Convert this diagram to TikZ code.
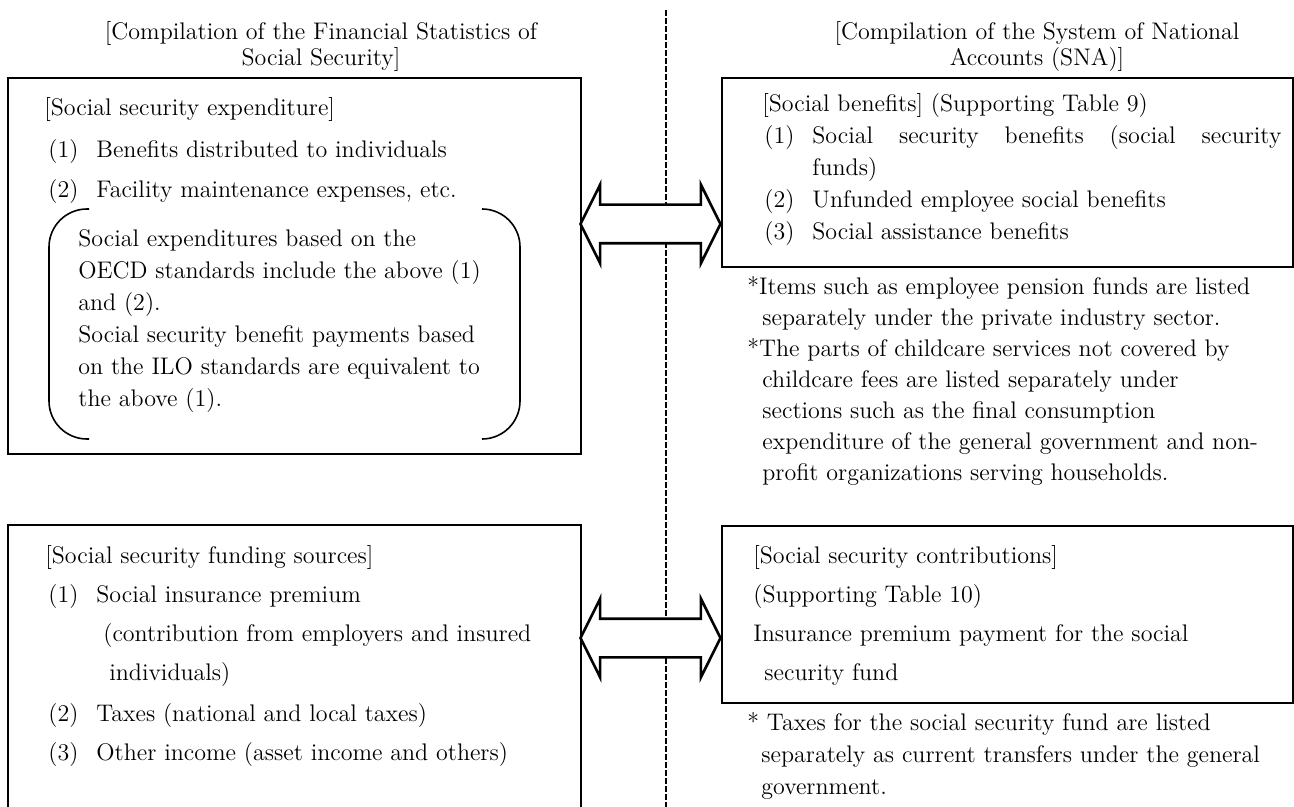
\documentclass[tikz,border=0pt]{standalone}
\usetikzlibrary{positioning, shapes.arrows}

\newcommand{\itemlabel}[1]{\makebox[24pt][l]{#1}}

\begin{document}
\begin{tikzpicture}[
		x=0.5pt, y=-0.5pt,
		font=\fontsize{12}{16}\selectfont,
		box/.style={draw, line width=0.9pt, anchor=north west, inner sep=0pt},
		body/.style={align=left, inner sep=0pt},
		widebody/.style={body, font=\fontsize{12}{19.5}\selectfont},
		note/.style={body, font=\fontsize{12}{15.5}\selectfont},
		heading/.style={align=center, inner sep=0pt, anchor=north, font=\fontsize{12}{13}\selectfont},
		pairarrow/.style={double arrow, draw, line width=1.3pt, fill=white, inner sep=9pt,
			double arrow head extend=10pt, double arrow tip angle=127, minimum height=70pt, minimum width=0pt},
		divider/.style={line width=1.1pt, dash pattern=on 2.8pt off 1.2pt},
		paren/.style={line width=0.8pt, rounded corners=19pt}
		]
		\useasboundingbox (0,0) rectangle (1294,807);
		
		% Headings
		\node[heading] (fintitle) at (321,21) {[Compilation of the Financial Statistics of\\Social Security]};
		\node[heading] (snatitle) at (1037,21) {[Compilation of the System of National\\Accounts (SNA)]};
		
		% Dividing line
		\coordinate (divtop) at (666,10);
		\coordinate (divbot) at (666,807);
		\draw[divider] (divtop) -- (divbot);
		
		% Financial statistics side
		\node[box, minimum width=286.5pt, minimum height=188pt] (expbox) at (7,77) {};
		\node[body, below right=10pt and 18.5pt of expbox.north west] (expbody) {[Social security expenditure]\\[5pt]
			\hspace*{2pt}\itemlabel{(1)}Benefits distributed to individuals\\[4pt]
			\hspace*{2pt}\itemlabel{(2)}Facility maintenance expenses, etc.};
		\node[body, below right=76pt and 35.5pt of expbox.north west] (oecdtext) {Social expenditures based on the\\
			OECD standards include the above (1)\\
			and (2).\\
			Social security benefit payments based\\
			on the ILO standards are equivalent to\\
			the above (1).};
		\draw[paren] (89,209) -- (49,209) -- (49,439) -- (89,439);
		\draw[paren] (482,209) -- (520,209) -- (520,439) -- (482,439);
		
		\node[box, minimum width=286.5pt, minimum height=144pt] (fundbox) at (7,524) {};
		\node[widebody, below right=10.5pt and 19pt of fundbox.north west] (fundbody) {[Social security funding sources]\\
			\hspace*{1.5pt}\itemlabel{(1)}Social insurance premium\\
			\hspace*{29pt}(contribution from employers and insured\\
			\hspace*{32pt}individuals)\\[1pt]
			\hspace*{1.5pt}\itemlabel{(2)}Taxes (national and local taxes)\\
			\hspace*{1.5pt}\itemlabel{(3)}Other income (asset income and others)};
		
		% SNA side
		\node[box, minimum width=285.5pt, minimum height=94.5pt] (benbox) at (721,77) {};
		\node[body, below right=8pt and 20.5pt of benbox.north west] (benbody) {[Social benefits] (Supporting Table 9)\\
			\hspace*{1pt}\itemlabel{(1)}\makebox[234.5pt][s]{Social security benefits (social security}\\
			\hspace*{25pt}funds)\\
			\hspace*{1pt}\itemlabel{(2)}Unfunded employee social benefits\\
			\hspace*{1pt}\itemlabel{(3)}Social assistance benefits};
		\node[note, below right=4pt and 13pt of benbox.south west] (bennote) {{*}Items such as employee pension funds are listed\\
			\hspace*{7.5pt}separately under the private industry sector.\\
			{*}The parts of childcare services not covered by\\
			\hspace*{7.5pt}childcare fees are listed separately under\\
			\hspace*{7.5pt}sections such as the final consumption\\
			\hspace*{7.5pt}expenditure of the general government and non-\\
			\hspace*{7.5pt}profit organizations serving households.};
		
		\node[box, minimum width=285.5pt, minimum height=88.5pt] (conbox) at (721,525) {};
		\node[widebody, below right=10pt and 16pt of conbox.north west] (conbody) {[Social security contributions]\\
			(Supporting Table 10)\\
			Insurance premium payment for the social\\
			\hspace*{5.5pt}security fund};
		\node[note, below right=4pt and 13pt of conbox.south west, font=\fontsize{12}{16}\selectfont] (connote) {{*} Taxes for the social security fund are listed\\
			\hspace*{7pt}separately as current transfers under the general\\
			\hspace*{7pt}government.};
		
		% Correspondence arrows
		\node[pairarrow] (exparrow) at (650.5,224) {};
		\node[pairarrow] (fundarrow) at (650.5,638) {};
		
	\end{tikzpicture}
\end{document}
